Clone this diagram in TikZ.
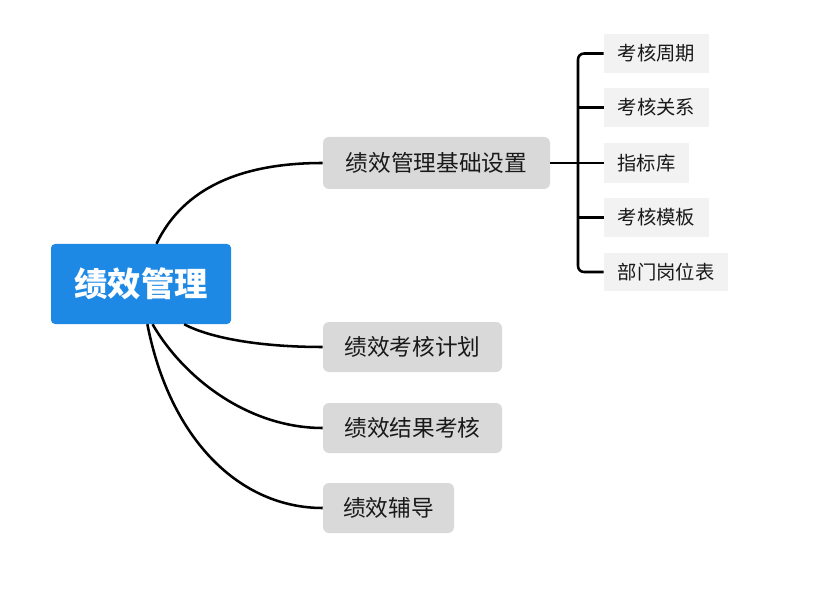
\documentclass[tikz,border=0pt]{standalone}
\usepackage{fontspec}
\setmainfont{Noto Sans CJK SC}
\definecolor{rootblue}{RGB}{30,137,229}
\definecolor{branchgray}{RGB}{217,217,217}
\definecolor{leafgray}{RGB}{242,242,242}
\begin{document}
\begin{tikzpicture}[x=0.75pt,y=-0.75pt,
  rootbox/.style={fill=rootblue, text=white, font=\bfseries\fontsize{25}{30}\selectfont, rounded corners=3pt, inner sep=0pt, minimum width=135pt, minimum height=60pt},
  branch/.style={fill=branchgray, text=black!90, font=\fontsize{17}{20}\selectfont, rounded corners=4.5pt, inner sep=0pt, minimum height=37.5pt},
  leaf/.style={fill=leafgray, text=black!90, font=\fontsize{14.5}{17}\selectfont, inner sep=0pt, minimum height=29.25pt, minimum width=78.75pt},
  link/.style={draw=black, line width=1.9pt}
]
\useasboundingbox (0,0) rectangle (834,598);
\node[rootbox] (root) at (141,284) {绩效管理};
\node[branch, minimum width=170.25pt, minimum height=39pt] (B1) at (436.5,163) {绩效管理基础设置};
\node[branch, minimum width=134.25pt] (B2) at (412.5,347) {绩效考核计划};
\node[branch, minimum width=134.25pt] (B3) at (412.5,428) {绩效结果考核};
\node[branch, minimum width=98.25pt] (B4) at (388.5,508) {绩效辅导};
\node[leaf] (S1) at (656.5,53.5) {考核周期};
\node[leaf] (S2) at (656.5,107.5) {考核关系};
\node[leaf, minimum width=63.75pt, minimum height=30pt] (S3) at (646.5,163) {指标库};
\node[leaf] (S4) at (656.5,217.5) {考核模板};
\node[leaf, minimum width=93pt, minimum height=28.5pt] (S5) at (666,272) {部门岗位表};
\coordinate (sp) at (578,163);
\draw[link] (root.69) .. controls (180,195) and (230,163) .. (B1.west);
\draw[link] (root.-43.6) .. controls (210,338) and (260,347) .. (B2.west);
\draw[link] (root.-74.6) .. controls (185,380) and (250,428) .. (B3.west);
\draw[link] (root.-81.5) .. controls (170,440) and (240,508) .. (B4.west);
\draw[link] (B1.east) -- (S3.west);
\draw[link, rounded corners=4.5pt] (S1.west) -| (sp) |- (S5.west);
\draw[link] (S2.west -| sp) -- (S2.west);
\draw[link] (S4.west -| sp) -- (S4.west);
\end{tikzpicture}
\end{document}
